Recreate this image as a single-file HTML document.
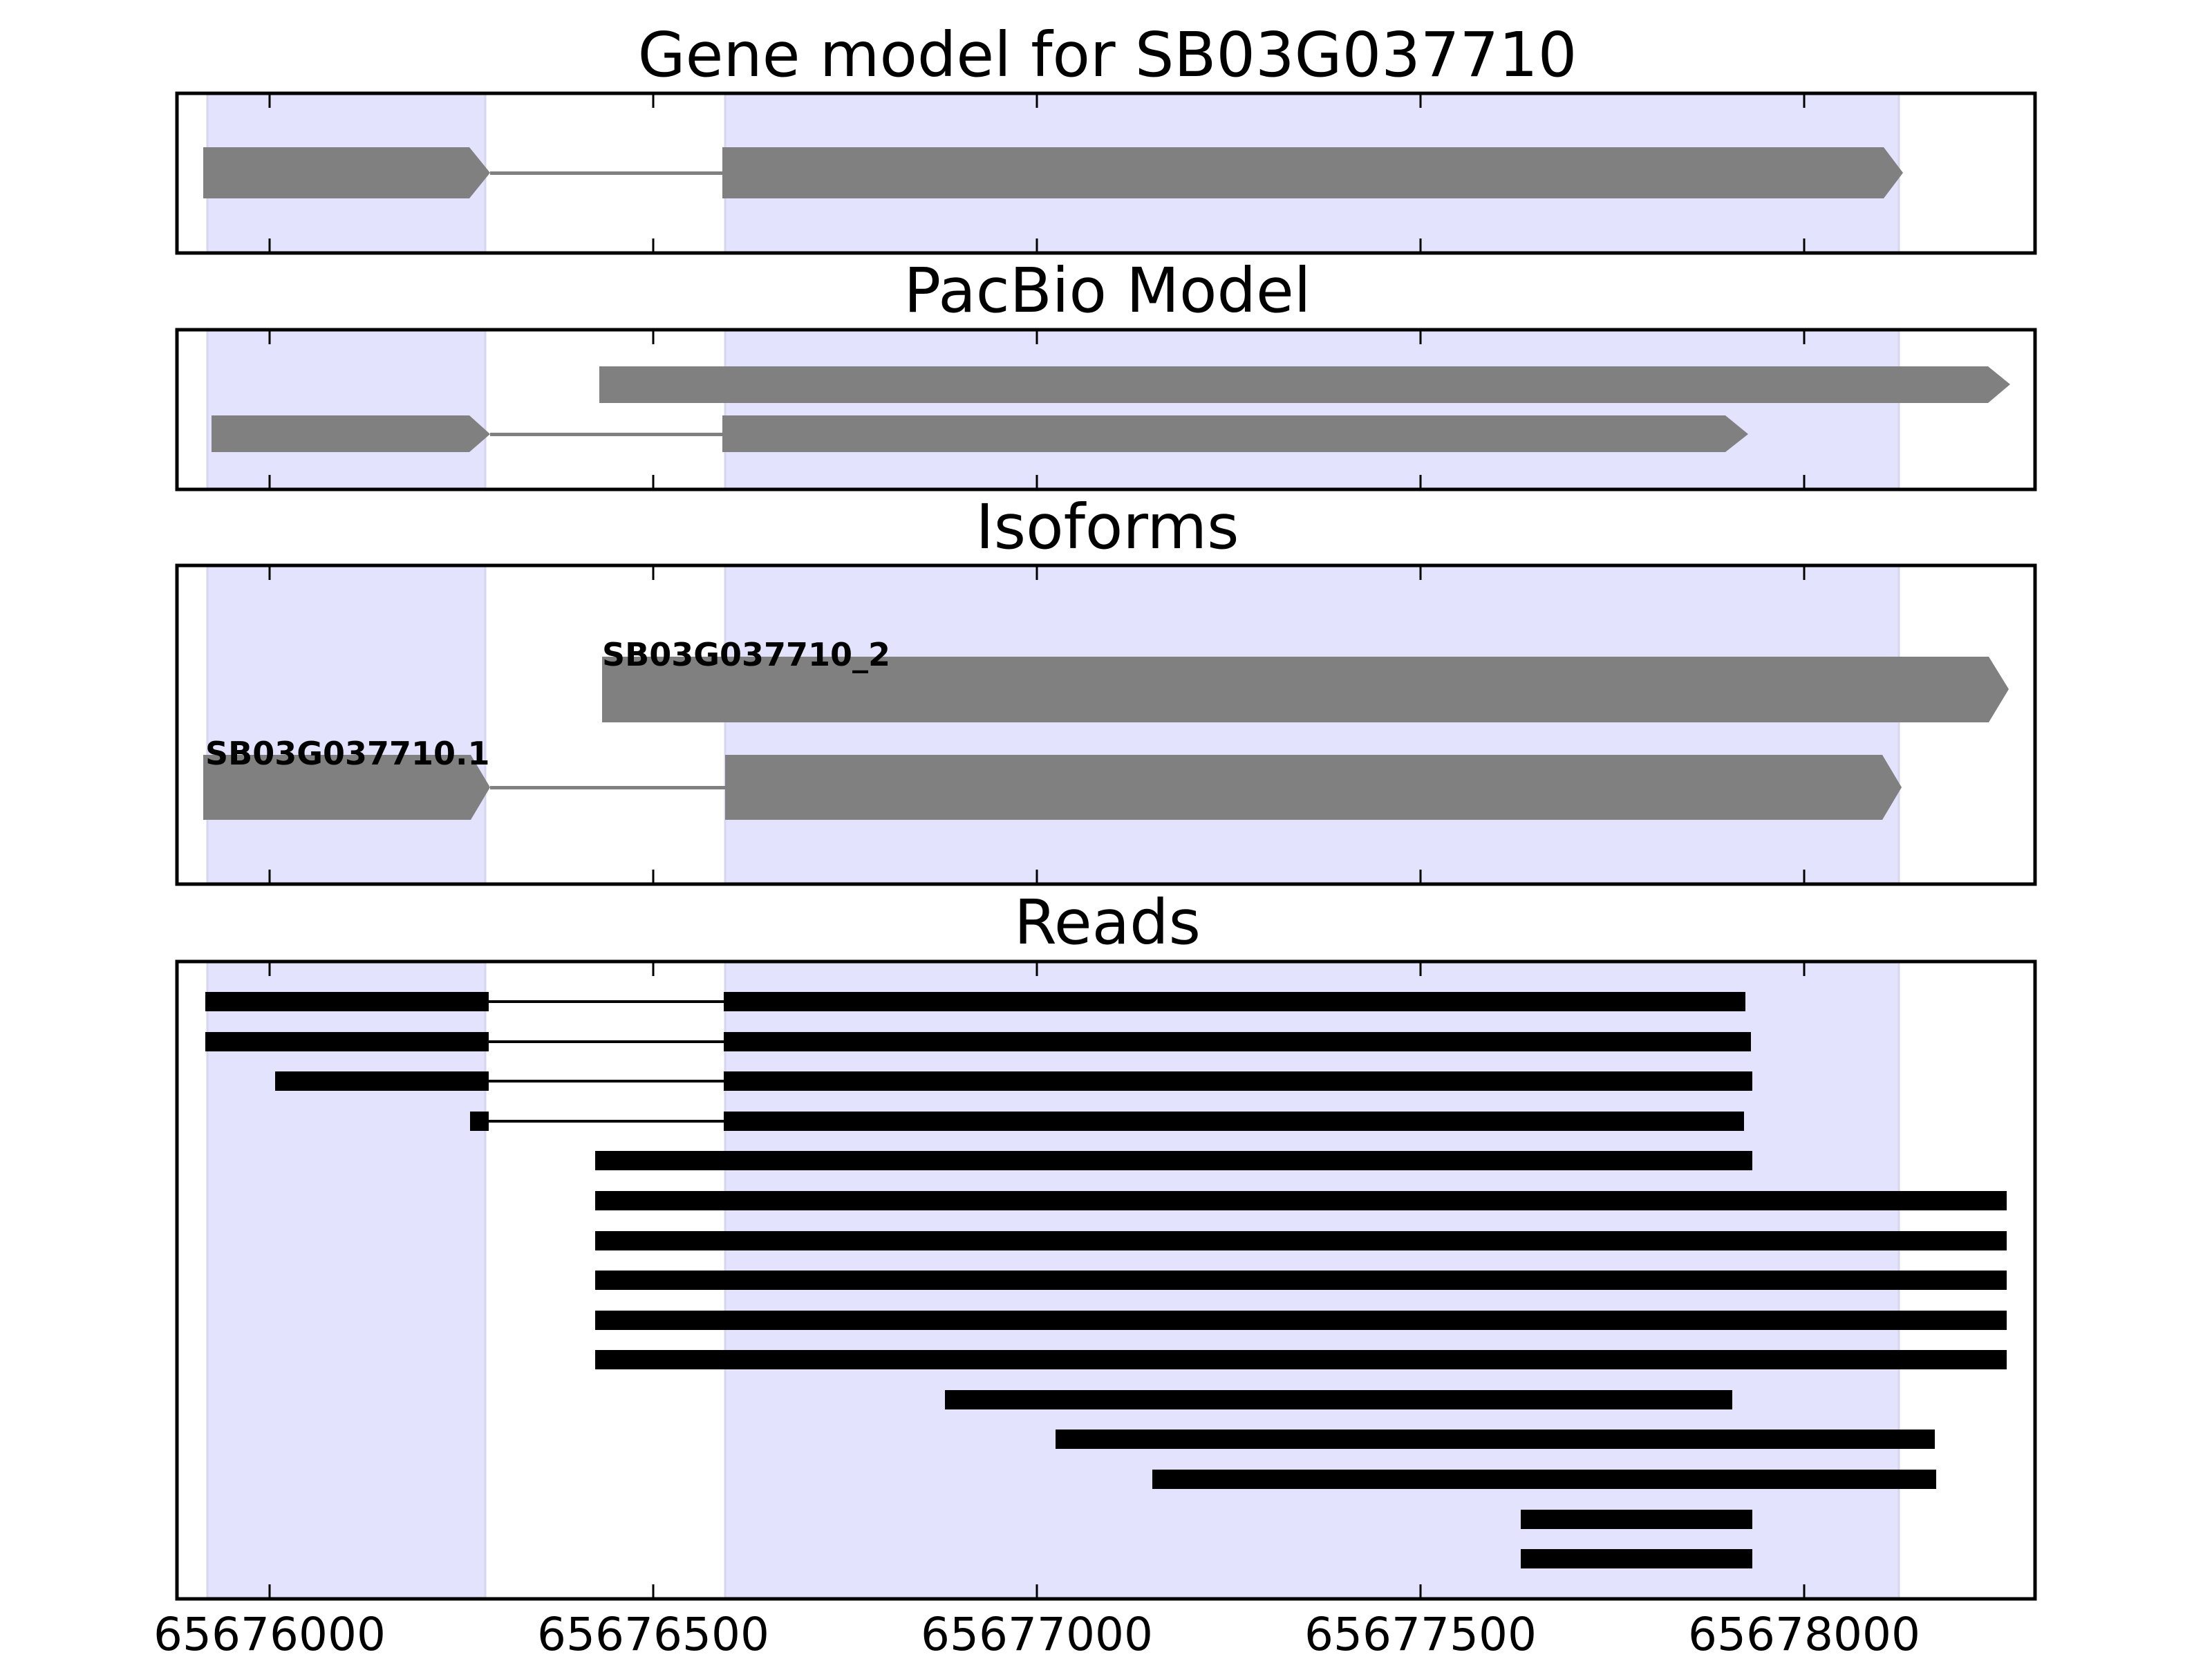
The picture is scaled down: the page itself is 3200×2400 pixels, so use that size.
<!DOCTYPE html>
<html><head><meta charset="utf-8"><style>
html,body{margin:0;padding:0;background:#fff;}
svg{display:block;}
text{font-family:"DejaVu Sans","Liberation Sans",sans-serif;fill:#000;}
</style></head><body>
<svg width="3200" height="2400" viewBox="0 0 3200 2400" xmlns="http://www.w3.org/2000/svg">
<!-- shaded regions -->
<g fill="#e3e3fd" stroke="#d6d6ee" stroke-width="3">
<rect x="300" y="135" width="402" height="231"/>
<rect x="1049" y="135" width="1698" height="231"/>
<rect x="300" y="477" width="402" height="231"/>
<rect x="1049" y="477" width="1698" height="231"/>
<rect x="300" y="818" width="402" height="461"/>
<rect x="1049" y="818" width="1698" height="461"/>
<rect x="300" y="1391" width="402" height="922"/>
<rect x="1049" y="1391" width="1698" height="922"/>
</g>

<!-- Gene model -->
<g fill="#808080">
<rect x="709" y="248" width="340" height="5"/>
<polygon points="294,213 679,213 709,250 679,287 294,287"/>
<polygon points="1045,213 2725,213 2753,250 2725,287 1045,287"/>
<!-- PacBio -->
<polygon points="867,530 2876,530 2908,556 2876,583 867,583"/>
<rect x="709" y="626" width="340" height="5"/>
<polygon points="306,601 679,601 709,628 679,654 306,654"/>
<polygon points="1045,601 2496,601 2529,628 2496,654 1045,654"/>
<!-- Isoforms -->
<polygon points="871,950 2877,950 2906,997 2877,1045 871,1045"/>
<rect x="709" y="1137" width="340" height="5"/>
<polygon points="294,1092 681,1092 709,1139 681,1186 294,1186"/>
<polygon points="1049,1092 2723,1092 2751,1139 2723,1186 1049,1186"/>
</g>
<text x="871" y="963" font-size="46" font-weight="bold">SB03G037710_2</text>
<text x="297" y="1106" font-size="46" font-weight="bold">SB03G037710.1</text>

<!-- Reads -->
<g fill="#000">
<rect x="707" y="1447" width="342" height="4"/>
<rect x="297" y="1435" width="410" height="28"/><rect x="1047" y="1435" width="1478" height="28"/>
<rect x="707" y="1505" width="342" height="4"/>
<rect x="297" y="1493" width="410" height="28"/><rect x="1047" y="1493" width="1486" height="28"/>
<rect x="707" y="1562" width="342" height="4"/>
<rect x="398" y="1550" width="309" height="28"/><rect x="1047" y="1550" width="1488" height="28"/>
<rect x="707" y="1620" width="342" height="4"/>
<rect x="680" y="1608" width="27" height="28"/><rect x="1047" y="1608" width="1476" height="28"/>
<rect x="861" y="1665" width="1674" height="28"/>
<rect x="861" y="1723" width="2042" height="28"/>
<rect x="861" y="1781" width="2042" height="28"/>
<rect x="861" y="1838" width="2042" height="28"/>
<rect x="861" y="1896" width="2042" height="28"/>
<rect x="861" y="1953" width="2042" height="28"/>
<rect x="1367" y="2011" width="1139" height="28"/>
<rect x="1527" y="2068" width="1272" height="28"/>
<rect x="1667" y="2126" width="1134" height="28"/>
<rect x="2200" y="2184" width="335" height="28"/>
<rect x="2200" y="2241" width="335" height="28"/>
</g>

<!-- axes frames -->
<g fill="none" stroke="#000" stroke-width="5">
<rect x="256" y="135" width="2688" height="231"/>
<rect x="256" y="477" width="2688" height="231"/>
<rect x="256" y="818" width="2688" height="461"/>
<rect x="256" y="1391" width="2688" height="922"/>
</g>
<!-- ticks -->
<g stroke="#000" stroke-width="3">
<path d="M390 135v21M945 135v21M1500 135v21M2055 135v21M2610 135v21
M390 366v-21M945 366v-21M1500 366v-21M2055 366v-21M2610 366v-21
M390 477v21M945 477v21M1500 477v21M2055 477v21M2610 477v21
M390 708v-21M945 708v-21M1500 708v-21M2055 708v-21M2610 708v-21
M390 818v21M945 818v21M1500 818v21M2055 818v21M2610 818v21
M390 1279v-21M945 1279v-21M1500 1279v-21M2055 1279v-21M2610 1279v-21
M390 1391v21M945 1391v21M1500 1391v21M2055 1391v21M2610 1391v21
M390 2313v-21M945 2313v-21M1500 2313v-21M2055 2313v-21M2610 2313v-21"/>
</g>

<!-- titles -->
<g font-size="89" text-anchor="middle">
<text x="1602" y="110">Gene model for SB03G037710</text>
<text x="1602" y="451">PacBio Model</text>
<text x="1602" y="793">Isoforms</text>
<text x="1602" y="1365">Reads</text>
</g>
<g font-size="66" text-anchor="middle">
<text x="390" y="2387">65676000</text>
<text x="945" y="2387">65676500</text>
<text x="1500" y="2387">65677000</text>
<text x="2055" y="2387">65677500</text>
<text x="2610" y="2387">65678000</text>
</g>
</svg>
</body></html>
